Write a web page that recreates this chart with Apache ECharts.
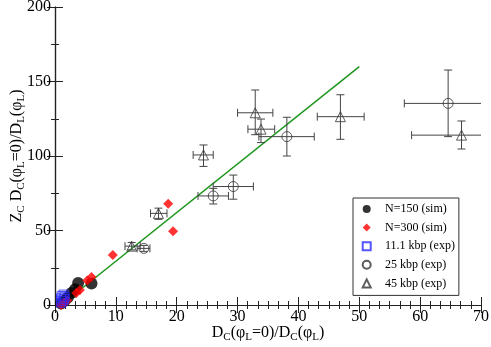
<!DOCTYPE html>
<html><head><meta charset="utf-8">
<script src="https://cdn.jsdelivr.net/npm/echarts@6/dist/echarts.min.js"></script>
<style>html,body{margin:0;padding:0;background:#fff}#c{width:491px;height:347px}</style>
</head><body><div id="c"></div>
<script>
// Simulation data [x, y]
const n150 = [[1,1],[1.6,3],[2.1,5],[2.7,8],[3.3,10.5],[3.8,14.8],[6.0,14.5]];
const n300 = [[1,0],[1.5,1.5],[2,3],[3.5,8],[4.1,10],[5.3,16.5],[6.0,18.8],[9.5,33.5],[18.6,68],[19.4,49.5]];
// 11.1 kbp experimental [x, y]
const kbp11 = [[1,1.5],[1,3],[1,4.5],[1.1,6],[1.4,7],[1.3,2.5],[1.5,4],[1.6,5.5]];
// experimental with error bars: [x, y, xLow, xHigh, yLow, yHigh]
const kbp25 = [
  [14.6,38,13.5,15.6,36,40],
  [26.0,73.2,23.5,28.5,67.8,78.3],
  [29.3,79.5,26.0,32.6,71,87.2],
  [38.1,113,33.5,42.6,100,126],
  [64.6,135.3,57.4,72,113,157.7]
];
const kbp45 = [
  [12.6,39.5,11.5,14.0,37,42],
  [17.0,61.5,15.7,18.4,57.5,65],
  [24.4,100.7,22.7,26.0,93,107.4],
  [32.9,129,30.0,35.8,114.3,144.3],
  [33.85,118,31.7,36.1,109,124.8],
  [46.9,126.4,43.1,50.8,111.2,141.1],
  [66.8,114,58.6,75,104.7,123.5]
];
const fitLine = [[1,0],[50,160]];
const legendNames = ['N=150 (sim)','N=300 (sim)','11.1 kbp (exp)','25 kbp (exp)','45 kbp (exp)'];
const xTicks = {min:0,max:70,interval:10};
const yTicks = {min:0,max:200,interval:50};

const FONT = 'Liberation Serif';
const chart = echarts.init(document.getElementById('c'), null, {renderer:'canvas'});

function errRender(params, api){
  const x = api.value(0), y = api.value(1);
  const xl = api.value(2), xh = api.value(3), yl = api.value(4), yh = api.value(5);
  const pL = api.coord([xl,y]), pR = api.coord([xh,y]);
  const pB = api.coord([x,yl]), pT = api.coord([x,yh]);
  const c = 4;
  const st = {stroke:'#444', lineWidth:1, fill:null};
  return {type:'group', children:[
    {type:'line', shape:{x1:pL[0],y1:pL[1],x2:pR[0],y2:pR[1]}, style:st},
    {type:'line', shape:{x1:pL[0],y1:pL[1]-c,x2:pL[0],y2:pL[1]+c}, style:st},
    {type:'line', shape:{x1:pR[0],y1:pR[1]-c,x2:pR[0],y2:pR[1]+c}, style:st},
    {type:'line', shape:{x1:pB[0],y1:pB[1],x2:pT[0],y2:pT[1]}, style:st},
    {type:'line', shape:{x1:pB[0]-c,y1:pB[1],x2:pB[0]+c,y2:pB[1]}, style:st},
    {type:'line', shape:{x1:pT[0]-c,y1:pT[1],x2:pT[0]+c,y2:pT[1]}, style:st}
  ]};
}

const rich = {
  n:{fontFamily:FONT,fontSize:16,color:'#000'},
  s:{fontFamily:FONT,fontSize:11,color:'#000',padding:[9,0,0,0]}
};
const axLine = {show:true,lineStyle:{color:'#222',width:1.2}};
const tick = {show:true,inside:true,length:8,lineStyle:{color:'#222'}};

chart.setOption({
  animation:false,
  backgroundColor:'#fff',
  grid:{left:55,right:10,top:7,bottom:42,containLabel:false,outerBoundsMode:'none'},
  xAxis:[{
    type:'value',min:xTicks.min,max:xTicks.max,interval:xTicks.interval,position:'bottom',
    axisLine:axLine,axisTick:tick,
    minorTick:{show:true,splitNumber:6,length:4,lineStyle:{color:'#222'}},
    splitLine:{show:false},
    axisLabel:{fontFamily:FONT,fontSize:16,color:'#000',margin:4},
    name:'{n|D}{s|C}{n|(φ}{s|L}{n|=0)/D}{s|C}{n|(φ}{s|L}{n|)}',
    nameLocation:'middle',nameGap:18,nameMoveOverlap:false,
    nameTextStyle:{rich:rich}
  },{
    type:'value',min:xTicks.min,max:xTicks.max,interval:xTicks.interval,position:'top',
    axisLine:axLine,axisTick:tick,
    minorTick:{show:true,splitNumber:6,length:4,lineStyle:{color:'#222'}},
    splitLine:{show:false},axisLabel:{show:false}
  }],
  yAxis:[{
    type:'value',min:yTicks.min,max:yTicks.max,interval:yTicks.interval,position:'left',
    axisLine:axLine,axisTick:tick,
    minorTick:{show:true,splitNumber:2,length:4,lineStyle:{color:'#222'}},
    splitLine:{show:false},
    axisLabel:{fontFamily:FONT,fontSize:16,color:'#000',margin:4},
    name:'{n|Z}{s|C}{n| D}{s|C}{n|(φ}{s|L}{n|=0)/D}{s|L}{n|(φ}{s|L}{n|)}',
    nameLocation:'middle',nameGap:28,nameMoveOverlap:false,
    nameTextStyle:{rich:rich}
  },{
    type:'value',min:yTicks.min,max:yTicks.max,interval:yTicks.interval,position:'right',
    axisLine:axLine,axisTick:tick,
    minorTick:{show:true,splitNumber:2,length:4,lineStyle:{color:'#222'}},
    splitLine:{show:false},axisLabel:{show:false}
  }],
  legend:{
    data:legendNames,orient:'vertical',left:353,top:198,
    padding:[5,4,6,8.7],itemWidth:8,itemHeight:8,itemGap:6.6,
    backgroundColor:'#fff',borderColor:'#333',borderWidth:1,borderRadius:0,
    textStyle:{fontFamily:FONT,fontSize:12,color:'#000',padding:[0,0,0,9.3]},
    selectedMode:false
  },
  series:[
    {type:'line',data:fitLine,showSymbol:false,symbol:'none',lineStyle:{color:'#1e961e',width:1.5},z:1,silent:true},
    {type:'custom',renderItem:errRender,data:kbp25,clip:true,z:2,encode:{x:0,y:1}},
    {type:'custom',renderItem:errRender,data:kbp45,clip:true,z:2,encode:{x:0,y:1}},
    {name:legendNames[0],type:'scatter',data:n150,symbol:'circle',symbolSize:12,itemStyle:{color:'#000'},z:4},
    {name:legendNames[1],type:'scatter',data:n300,symbol:'diamond',symbolSize:10,itemStyle:{color:'#ff0000'},z:5},
    {name:legendNames[2],type:'scatter',data:kbp11,symbol:'rect',symbolSize:9,itemStyle:{color:'rgba(255,255,255,0)',borderColor:'#2a2aff',borderWidth:1},z:6},
    {name:legendNames[3],type:'scatter',data:kbp25,symbol:'circle',symbolSize:10,itemStyle:{color:'rgba(255,255,255,0)',borderColor:'#333',borderWidth:1},z:3},
    {name:legendNames[4],type:'scatter',data:kbp45,symbol:'triangle',symbolSize:10,itemStyle:{color:'rgba(255,255,255,0)',borderColor:'#333',borderWidth:1},z:3}
  ]
});
</script></body></html>
